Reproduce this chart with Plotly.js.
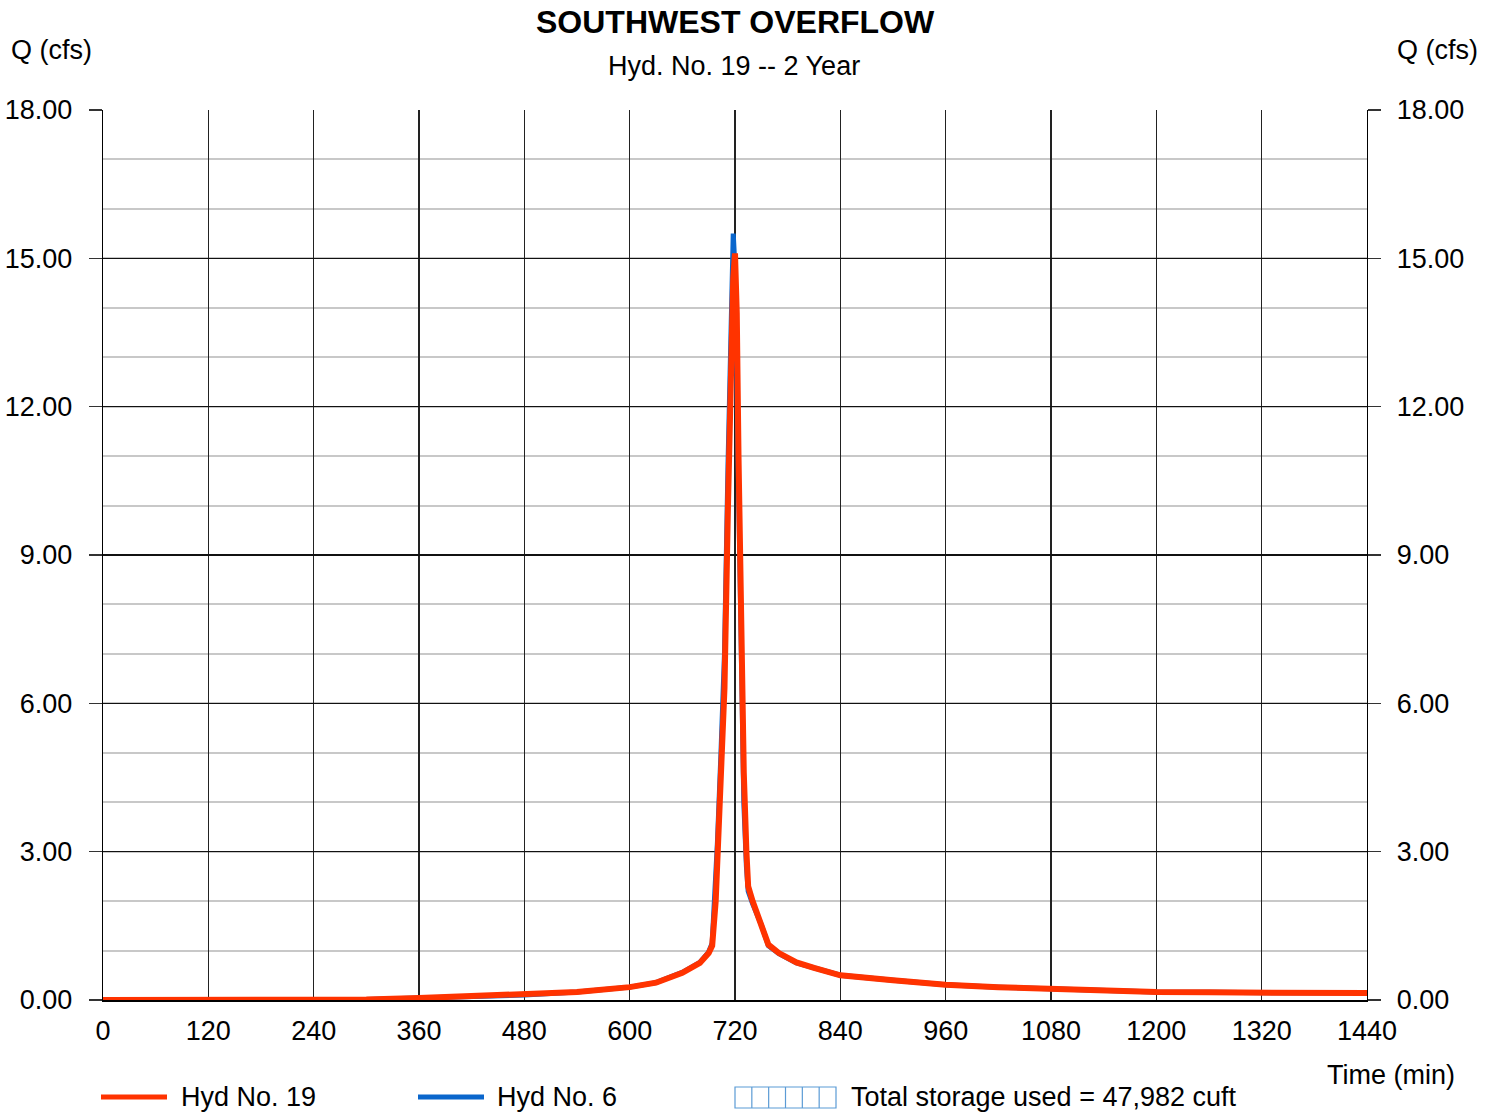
<!DOCTYPE html>
<html>
<head>
<meta charset="utf-8">
<script src="https://cdn.plot.ly/plotly-3.0.1.min.js"></script>
<style>
  html, body { margin: 0; padding: 0; background: #fff; }
  #chart { width: 1496px; height: 1112px; }
</style>
</head>
<body>
<div id="chart"></div>
<script>
// ---- data ----
var timeMin = [0, 60, 120, 180, 240, 300, 360, 420, 480, 540, 600, 630, 660, 680, 690, 694, 698, 700, 704, 708, 712, 716, 718, 720, 722, 724, 726, 728, 730, 733, 735, 740, 750, 758, 770, 790, 810, 840, 900, 960, 1020, 1080, 1140, 1200, 1260, 1320, 1380, 1440];
var hyd19 = [0, 0, 0, 0, 0, 0.01, 0.04, 0.07, 0.10, 0.16, 0.26, 0.35, 0.55, 0.75, 0.95, 1.1, 2.0, 2.9, 4.6, 6.3, 10.0, 13.4, 14.6, 15.1, 13.9, 11.0, 8.5, 6.0, 4.6, 3.0, 2.3, 2.0, 1.55, 1.12, 0.95, 0.76, 0.65, 0.50, 0.40, 0.31, 0.26, 0.22, 0.19, 0.16, 0.155, 0.15, 0.145, 0.14];
var hyd6  = [0, 0, 0, 0, 0, 0.01, 0.04, 0.07, 0.10, 0.16, 0.26, 0.35, 0.56, 0.76, 0.97, 1.15, 2.3, 3.2, 5.0, 7.0, 10.8, 14.2, 15.5, 14.8, 12.5, 9.8, 7.5, 5.3, 4.0, 2.7, 2.2, 1.95, 1.52, 1.1, 0.94, 0.75, 0.64, 0.50, 0.40, 0.31, 0.26, 0.22, 0.19, 0.16, 0.155, 0.15, 0.145, 0.14];
var xTicks = [0, 120, 240, 360, 480, 600, 720, 840, 960, 1080, 1200, 1320, 1440];
var yTicks = [0, 3, 6, 9, 12, 15, 18];
var titleText = "SOUTHWEST OVERFLOW";
var subtitleText = "Hyd. No. 19 -- 2 Year";
var legendNames = ["Hyd No. 19", "Hyd No. 6", "Total storage used = 47,982 cuft"];

// ---- layout helpers ----
var W = 1496, H = 1112;
var L = 103, R = 1367, T = 110, B = 1000;
function px(x) { return (x - L) / (R - L); }
function py(y) { return (B - y) / (B - T); }

var RED = "#ff3300", BLUE = "#0a66cc";
var FONT = "Liberation Sans, Arial, sans-serif";
var FS = 27;

var traces = [
  { x: timeMin, y: hyd6, type: "scatter", mode: "lines", name: legendNames[1],
    line: { color: BLUE, width: 5 }, showlegend: false, hoverinfo: "skip" },
  { x: timeMin, y: hyd19, type: "scatter", mode: "lines", name: legendNames[0],
    line: { color: RED, width: 6 }, showlegend: false, hoverinfo: "skip" },
  { x: [0], y: [0], yaxis: "y2", type: "scatter", mode: "markers", marker: { opacity: 0 },
    showlegend: false, hoverinfo: "skip" }
];

var shapes = [
  { type: "line", xref: "paper", yref: "paper", x0: px(101), x1: px(167), y0: py(1097), y1: py(1097),
    line: { color: RED, width: 5 } },
  { type: "line", xref: "paper", yref: "paper", x0: px(418), x1: px(484), y0: py(1097), y1: py(1097),
    line: { color: BLUE, width: 5 } },
  { type: "rect", xref: "paper", yref: "paper", x0: px(735), x1: px(836), y0: py(1108), y1: py(1087),
    line: { color: "#5b9bd5", width: 1.2 }, fillcolor: "rgba(0,0,0,0)" }
];
for (var i = 1; i < 6; i++) {
  var xx = 735 + i * (101 / 6);
  shapes.push({ type: "line", xref: "paper", yref: "paper", x0: px(xx), x1: px(xx), y0: py(1108), y1: py(1087),
    line: { color: "#5b9bd5", width: 1.2 } });
}

var annotations = [
  { text: titleText, xref: "paper", yref: "paper", x: px(735), y: py(22), showarrow: false,
    font: { family: FONT, size: 32, color: "#000", weight: "bold" }, xanchor: "center", yanchor: "middle" },
  { text: subtitleText, xref: "paper", yref: "paper", x: px(734), y: py(66), showarrow: false,
    font: { family: FONT, size: FS, color: "#000" }, xanchor: "center", yanchor: "middle" },
  { text: "Q (cfs)", xref: "paper", yref: "paper", x: px(9), y: py(50), showarrow: false,
    font: { family: FONT, size: FS, color: "#000" }, xanchor: "left", yanchor: "middle" },
  { text: "Q (cfs)", xref: "paper", yref: "paper", x: px(1480), y: py(50), showarrow: false,
    font: { family: FONT, size: FS, color: "#000" }, xanchor: "right", yanchor: "middle" },
  { text: "Time (min)", xref: "paper", yref: "paper", x: px(1457), y: py(1075), showarrow: false,
    font: { family: FONT, size: FS, color: "#000" }, xanchor: "right", yanchor: "middle" },
  { text: legendNames[0], xref: "paper", yref: "paper", x: px(179), y: py(1097), showarrow: false,
    font: { family: FONT, size: FS, color: "#000" }, xanchor: "left", yanchor: "middle" },
  { text: legendNames[1], xref: "paper", yref: "paper", x: px(495), y: py(1097), showarrow: false,
    font: { family: FONT, size: FS, color: "#000" }, xanchor: "left", yanchor: "middle" },
  { text: legendNames[2], xref: "paper", yref: "paper", x: px(849), y: py(1097), showarrow: false,
    font: { family: FONT, size: FS, color: "#000" }, xanchor: "left", yanchor: "middle" }
];

var yCommon = {
  range: [0, 18], tickvals: yTicks, tickformat: ".2f", fixedrange: true,
  ticks: "outside", ticklen: 13, tickwidth: 1.5, tickcolor: "#333",
  tickfont: { family: FONT, size: FS, color: "#000" },
  zeroline: false
};

var layout = {
  width: W, height: H,
  margin: { l: L, r: W - R, t: T, b: H - B, pad: 0 },
  paper_bgcolor: "#fff", plot_bgcolor: "#fff",
  showlegend: false,
  font: { family: FONT, size: FS, color: "#000" },
  xaxis: {
    range: [0, 1440], tickvals: xTicks, fixedrange: true,
    showgrid: true, gridcolor: "#222", gridwidth: 1.3,
    showline: true, linecolor: "#000", linewidth: 1.5,
    ticks: "", ticklabelstandoff: 6,
    tickfont: { family: FONT, size: FS, color: "#000" },
    zeroline: false
  },
  yaxis: Object.assign({}, yCommon, {
    side: "left", ticklabelstandoff: 11,
    showgrid: true, gridcolor: "#111", gridwidth: 1.3,
    showline: true, linecolor: "#000", linewidth: 1.3,
    minor: { dtick: 1, showgrid: true, gridcolor: "#c8c8c8", gridwidth: 2, ticks: "" }
  }),
  yaxis2: Object.assign({}, yCommon, {
    side: "right", overlaying: "y", matches: "y", ticklabelstandoff: 10,
    showgrid: false, showline: true, linecolor: "#000", linewidth: 1.3
  }),
  shapes: shapes,
  annotations: annotations
};

Plotly.newPlot("chart", traces, layout, { staticPlot: true, displayModeBar: false });
</script>
</body>
</html>
